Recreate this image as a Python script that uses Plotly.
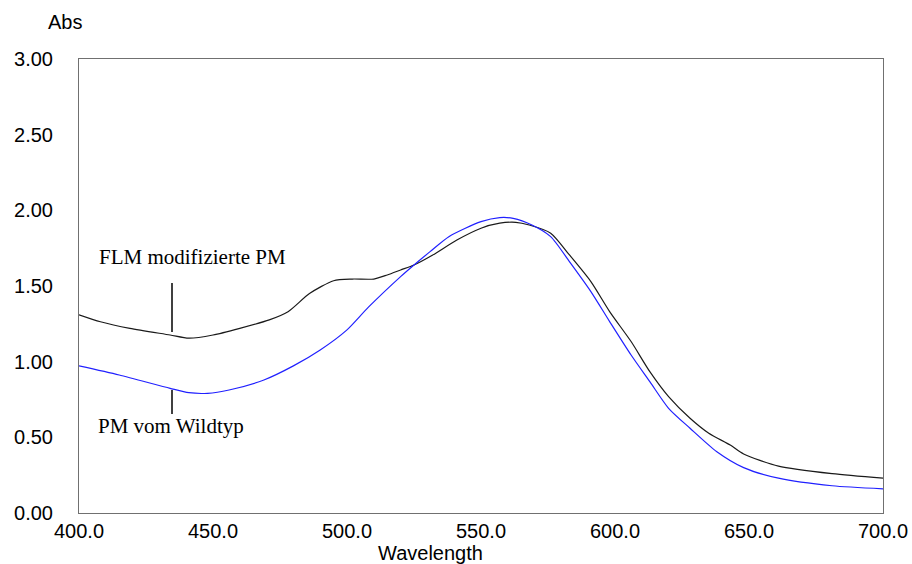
import plotly.graph_objects as go

# Absorption spectra of purple membrane samples
wl_flm = [400, 408, 419, 434, 441, 450, 460, 471, 478, 486, 495, 502, 510, 515,
          520, 525, 532, 541, 550, 557, 563, 568, 576, 583, 591, 598, 606, 613,
          620, 628, 635, 643, 648, 661, 681, 700]
abs_flm = [1.31, 1.264, 1.22, 1.176, 1.155, 1.176, 1.22, 1.276, 1.33, 1.45, 1.535,
           1.546, 1.546, 1.573, 1.606, 1.639, 1.705, 1.804, 1.882, 1.915, 1.921,
           1.903, 1.849, 1.705, 1.529, 1.331, 1.133, 0.934, 0.769, 0.626, 0.527,
           0.449, 0.39, 0.31, 0.26, 0.23]

wl_wt = [400, 415, 434, 441, 448, 456, 469, 480, 490, 500, 508, 520, 525, 531,
         538, 550, 557, 562, 569, 576, 583, 591, 598, 606, 613, 620, 628, 638,
         648, 661, 681, 700]
abs_wt = [0.972, 0.912, 0.824, 0.795, 0.791, 0.813, 0.879, 0.972, 1.077, 1.21,
          1.36, 1.562, 1.639, 1.727, 1.826, 1.925, 1.952, 1.947, 1.903, 1.826,
          1.661, 1.463, 1.265, 1.044, 0.868, 0.692, 0.56, 0.405, 0.30, 0.23,
          0.18, 0.16]

x_ticks = [400, 450, 500, 550, 600, 650, 700]
x_tick_text = ["400.0", "450.0", "500.0", "550.0", "600.0", "650.0", "700.0"]
y_ticks = [0, 0.5, 1.0, 1.5, 2.0, 2.5, 3.0]
y_tick_text = ["0.00", "0.50", "1.00", "1.50", "2.00", "2.50", "3.00"]

label_flm = "FLM modifizierte PM"
label_wt = "PM vom Wildtyp"
marker_wl = 434.7

fig = go.Figure()
fig.add_trace(go.Scatter(x=wl_flm, y=abs_flm, mode="lines",
                         line=dict(color="#1a1a1a", width=1.2, shape="spline", smoothing=0.7),
                         name=label_flm, showlegend=False))
fig.add_trace(go.Scatter(x=wl_wt, y=abs_wt, mode="lines",
                         line=dict(color="#2020ff", width=1.2, shape="spline", smoothing=0.7),
                         name=label_wt, showlegend=False))

axis_font = dict(family="Liberation Sans, Arial, sans-serif", size=20, color="#000000")
serif_font = dict(family="Liberation Serif, Times New Roman, serif", size=21, color="#000000")

fig.update_layout(
    width=912, height=564,
    margin=dict(l=79, r=29, t=59, b=51),
    paper_bgcolor="white", plot_bgcolor="white",
    xaxis=dict(range=[400, 700], tickvals=x_ticks, ticktext=x_tick_text,
               showgrid=False, zeroline=False, showline=True, mirror=True,
               linecolor="#707070", linewidth=1, ticks="", tickfont=axis_font,
               ticklabelstandoff=0, automargin=False),
    yaxis=dict(range=[0, 3], tickvals=y_ticks, ticktext=y_tick_text,
               showgrid=False, zeroline=False, showline=True, mirror=True,
               linecolor="#707070", linewidth=1, ticks="", tickfont=axis_font,
               ticklabelstandoff=21, automargin=False),
    shapes=[
        dict(type="line", xref="x", yref="y", x0=marker_wl, x1=marker_wl,
             y0=1.196, y1=1.52, line=dict(color="black", width=1.5)),
        dict(type="line", xref="x", yref="y", x0=marker_wl, x1=marker_wl,
             y0=0.654, y1=0.813, line=dict(color="black", width=1.5)),
    ],
    annotations=[
        dict(text=label_flm, xref="x", yref="y", x=406.7, y=1.692,
             xanchor="left", yanchor="middle", showarrow=False, font=serif_font),
        dict(text=label_wt, xref="x", yref="y", x=406.3, y=0.578,
             xanchor="left", yanchor="middle", showarrow=False, font=serif_font),
        dict(text="Abs", xref="paper", yref="paper", x=(65 - 79) / 804, y=(513 - 22) / 454,
             xanchor="center", yanchor="middle", showarrow=False, font=axis_font),
        dict(text="Wavelength", xref="paper", yref="paper", x=(430 - 79) / 804,
             y=(513 - 553) / 454, xanchor="center", yanchor="middle",
             showarrow=False, font=axis_font),
    ],
)

fig.write_html("out.html")
